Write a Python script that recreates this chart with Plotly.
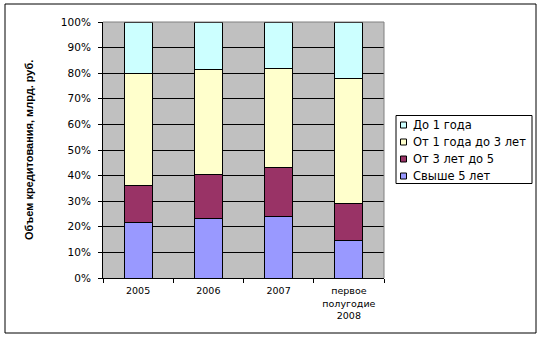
import plotly.graph_objects as go

# ---- data ----
categories = ["2005", "2006", "2007", "первое<br>полугодие<br>2008"]
series_names = ["Свыше 5 лет", "От 3 лет до 5", "От 1 года до 3 лет", "До 1 года"]
over5 = [21.8, 23.4, 24.2, 14.8]
from3to5 = [14.4, 17.1, 19.0, 14.4]
from1to3 = [43.7, 40.9, 38.6, 48.7]
upto1 = [20.1, 18.6, 18.2, 22.1]
series_values = [over5, from3to5, from1to3, upto1]
colors = ["#9999FF", "#993366", "#FFFFCC", "#CCFFFF"]
y_ticks = [0, 10, 20, 30, 40, 50, 60, 70, 80, 90, 100]
y_ticklabels = [f"{v}%" for v in y_ticks]
y_title = "Объем кредитования, млрд. руб."

W, H = 542, 338
L, R, T, B = 103, 158, 22, 60
PW, PH = W - L - R, H - T - B


def px_x(x):
    return (x - L) / PW


def px_y(y):
    return (H - B - y) / PH


fig = go.Figure()
for name, vals, col in zip(series_names, series_values, colors):
    fig.add_trace(go.Bar(
        x=categories, y=vals, name=name,
        marker=dict(color=col, line=dict(color="black", width=1)),
        showlegend=False,
    ))

font = "DejaVu Sans"
shapes = [
    # outer chart border
    dict(type="rect", xref="paper", yref="paper",
         x0=px_x(5), x1=px_x(536), y0=px_y(333), y1=px_y(4),
         line=dict(color="black", width=1), fillcolor="rgba(0,0,0,0)"),
    # plot-area gray border (top, right)
    dict(type="line", xref="paper", yref="paper", x0=0, x1=1, y0=1, y1=1,
         line=dict(color="#808080", width=1)),
    dict(type="line", xref="paper", yref="paper", x0=1, x1=1, y0=0, y1=1,
         line=dict(color="#808080", width=1)),
    # legend box
    dict(type="rect", xref="paper", yref="paper",
         x0=px_x(396), x1=px_x(532), y0=px_y(183.5), y1=px_y(115.5),
         line=dict(color="black", width=1), fillcolor="white"),
]
annotations = [
    dict(text=y_title, xref="paper", yref="paper", x=px_x(29), y=px_y(150),
         textangle=-90, showarrow=False, xanchor="center", yanchor="middle",
         font=dict(family="Liberation Sans", size=11, color="black", weight="bold")),
]
# manual legend (top-to-bottom reversed stacking order)
for i, idx in enumerate(reversed(range(len(series_names)))):
    yc = 125 + 17 * i
    shapes.append(dict(type="rect", xref="paper", yref="paper",
                       x0=px_x(400.5), x1=px_x(406.5), y0=px_y(yc + 3), y1=px_y(yc - 3),
                       line=dict(color="black", width=1), fillcolor=colors[idx]))
    annotations.append(dict(text=series_names[idx], xref="paper", yref="paper",
                            x=px_x(411), y=px_y(yc), xanchor="left", yanchor="middle",
                            showarrow=False,
                            font=dict(family=font, size=11.5, color="black")))

fig.update_layout(
    width=W, height=H,
    margin=dict(l=L, r=R, t=T, b=B, autoexpand=False),
    paper_bgcolor="white", plot_bgcolor="#C0C0C0",
    barmode="stack", bargap=0.6,
    showlegend=False,
    shapes=shapes, annotations=annotations,
    font=dict(family=font, size=10, color="black"),
    xaxis=dict(
        type="category", tickson="boundaries", ticks="outside", ticklen=4,
        tickcolor="black", showline=True, linecolor="black", linewidth=1,
        showgrid=False, tickfont=dict(family=font, size=9.5), fixedrange=True,
        ticklabelstandoff=4,
    ),
    yaxis=dict(
        range=[0, 100], tickvals=y_ticks, ticktext=y_ticklabels,
        ticks="outside", ticklen=4, tickcolor="black",
        showline=True, linecolor="black", linewidth=1,
        showgrid=True, gridcolor="black", gridwidth=1,
        zeroline=False, tickfont=dict(family=font, size=10.5),
        ticklabelstandoff=5, fixedrange=True,
    ),
)

fig.write_html("out.html")
